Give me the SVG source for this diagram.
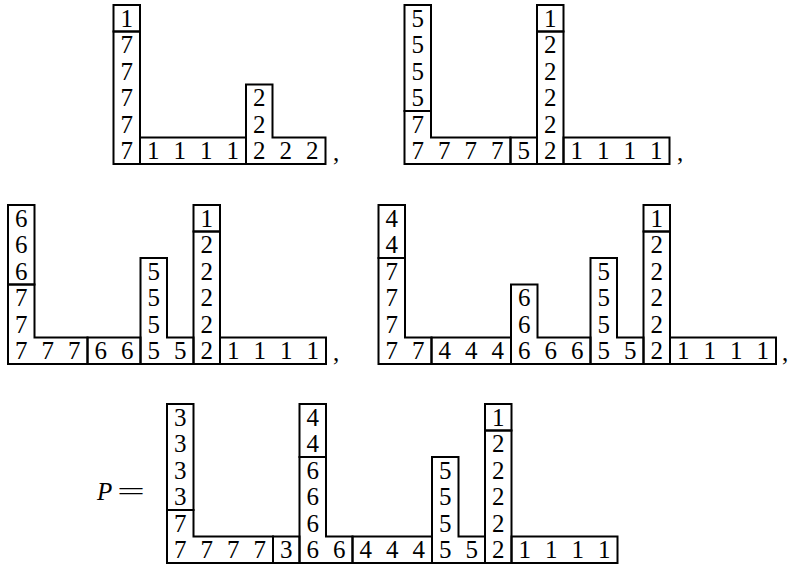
<svg xmlns="http://www.w3.org/2000/svg" width="791" height="566" viewBox="0 0 791 566">
<style>
.b{fill:none;stroke:#000;stroke-width:2;stroke-linejoin:miter}
text{font-family:'Liberation Serif','Times New Roman',serif;font-size:25px;text-anchor:middle;fill:#000}
.p{text-anchor:start}
</style>
<rect width="791" height="566" fill="#fff"/>
<g id="tableau1">
<rect class="b" x="113.5" y="5" width="26.5" height="26.5"/>
<rect class="b" x="113.5" y="31.5" width="26.5" height="132.5"/>
<rect class="b" x="140" y="137.5" width="106" height="26.5"/>
<polygon class="b" points="246,84.5 272.5,84.5 272.5,137.5 325.5,137.5 325.5,164 246,164"/>
<text x="126.75" y="26.5">1</text>
<text x="126.75" y="53">7</text><text x="126.75" y="79.5">7</text><text x="126.75" y="106">7</text><text x="126.75" y="132.5">7</text><text x="126.75" y="159">7</text>
<text x="153.25" y="159">1</text><text x="179.75" y="159">1</text><text x="206.25" y="159">1</text><text x="232.75" y="159">1</text>
<text x="259.25" y="106">2</text><text x="259.25" y="132.5">2</text>
<text x="259.25" y="159">2</text><text x="285.75" y="159">2</text><text x="312.25" y="159">2</text>
<text class="p" x="333" y="161">,</text>
</g>
<g id="tableau2">
<rect class="b" x="404.5" y="5" width="26.5" height="106"/>
<polygon class="b" points="404.5,111 431,111 431,137.5 510.5,137.5 510.5,164 404.5,164"/>
<rect class="b" x="510.5" y="137.5" width="26.5" height="26.5"/>
<rect class="b" x="537" y="5" width="26.5" height="26.5"/>
<rect class="b" x="537" y="31.5" width="26.5" height="132.5"/>
<rect class="b" x="563.5" y="137.5" width="106" height="26.5"/>
<text x="417.75" y="26.5">5</text><text x="417.75" y="53">5</text><text x="417.75" y="79.5">5</text><text x="417.75" y="106">5</text>
<text x="417.75" y="132.5">7</text>
<text x="417.75" y="159">7</text><text x="444.25" y="159">7</text><text x="470.75" y="159">7</text><text x="497.25" y="159">7</text>
<text x="523.75" y="159">5</text>
<text x="550.25" y="26.5">1</text>
<text x="550.25" y="53">2</text><text x="550.25" y="79.5">2</text><text x="550.25" y="106">2</text><text x="550.25" y="132.5">2</text><text x="550.25" y="159">2</text>
<text x="576.75" y="159">1</text><text x="603.25" y="159">1</text><text x="629.75" y="159">1</text><text x="656.25" y="159">1</text>
<text class="p" x="677" y="161">,</text>
</g>
<g id="tableau3">
<rect class="b" x="8" y="205" width="26.5" height="79.5"/>
<polygon class="b" points="8,284.5 34.5,284.5 34.5,337.5 87.5,337.5 87.5,364 8,364"/>
<rect class="b" x="87.5" y="337.5" width="53" height="26.5"/>
<polygon class="b" points="140.5,258 167,258 167,337.5 193.5,337.5 193.5,364 140.5,364"/>
<rect class="b" x="193.5" y="205" width="26.5" height="26.5"/>
<rect class="b" x="193.5" y="231.5" width="26.5" height="132.5"/>
<rect class="b" x="220" y="337.5" width="106" height="26.5"/>
<text x="21.25" y="226.5">6</text><text x="21.25" y="253">6</text><text x="21.25" y="279.5">6</text>
<text x="21.25" y="306">7</text><text x="21.25" y="332.5">7</text>
<text x="21.25" y="359">7</text><text x="47.75" y="359">7</text><text x="74.25" y="359">7</text>
<text x="100.75" y="359">6</text><text x="127.25" y="359">6</text>
<text x="153.75" y="279.5">5</text><text x="153.75" y="306">5</text><text x="153.75" y="332.5">5</text>
<text x="153.75" y="359">5</text><text x="180.25" y="359">5</text>
<text x="206.75" y="226.5">1</text>
<text x="206.75" y="253">2</text><text x="206.75" y="279.5">2</text><text x="206.75" y="306">2</text><text x="206.75" y="332.5">2</text><text x="206.75" y="359">2</text>
<text x="233.25" y="359">1</text><text x="259.75" y="359">1</text><text x="286.25" y="359">1</text><text x="312.75" y="359">1</text>
<text class="p" x="333" y="361">,</text>
</g>
<g id="tableau4">
<rect class="b" x="378.5" y="205" width="26.5" height="53"/>
<polygon class="b" points="378.5,258 405,258 405,337.5 431.5,337.5 431.5,364 378.5,364"/>
<rect class="b" x="431.5" y="337.5" width="79.5" height="26.5"/>
<polygon class="b" points="511,284.5 537.5,284.5 537.5,337.5 590.5,337.5 590.5,364 511,364"/>
<polygon class="b" points="590.5,258 617,258 617,337.5 643.5,337.5 643.5,364 590.5,364"/>
<rect class="b" x="643.5" y="205" width="26.5" height="26.5"/>
<rect class="b" x="643.5" y="231.5" width="26.5" height="132.5"/>
<rect class="b" x="670" y="337.5" width="106" height="26.5"/>
<text x="391.75" y="226.5">4</text><text x="391.75" y="253">4</text>
<text x="391.75" y="279.5">7</text><text x="391.75" y="306">7</text><text x="391.75" y="332.5">7</text>
<text x="391.75" y="359">7</text><text x="418.25" y="359">7</text>
<text x="444.75" y="359">4</text><text x="471.25" y="359">4</text><text x="497.75" y="359">4</text>
<text x="524.25" y="306">6</text><text x="524.25" y="332.5">6</text>
<text x="524.25" y="359">6</text><text x="550.75" y="359">6</text><text x="577.25" y="359">6</text>
<text x="603.75" y="279.5">5</text><text x="603.75" y="306">5</text><text x="603.75" y="332.5">5</text>
<text x="603.75" y="359">5</text><text x="630.25" y="359">5</text>
<text x="656.75" y="226.5">1</text>
<text x="656.75" y="253">2</text><text x="656.75" y="279.5">2</text><text x="656.75" y="306">2</text><text x="656.75" y="332.5">2</text><text x="656.75" y="359">2</text>
<text x="683.25" y="359">1</text><text x="709.75" y="359">1</text><text x="736.25" y="359">1</text><text x="762.75" y="359">1</text>
<text class="p" x="782" y="361">,</text>
</g>
<g id="tableauP">
<text class="p" x="97" y="500" font-style="italic" font-size="27">P</text>
<text class="p" x="117" y="500" textLength="28" lengthAdjust="spacingAndGlyphs">=</text>
<rect class="b" x="167" y="404" width="26.5" height="106"/>
<polygon class="b" points="167,510 193.5,510 193.5,536.5 273,536.5 273,563 167,563"/>
<rect class="b" x="273" y="536.5" width="26.5" height="26.5"/>
<rect class="b" x="299.5" y="404" width="26.5" height="53"/>
<polygon class="b" points="299.5,457 326,457 326,536.5 352.5,536.5 352.5,563 299.5,563"/>
<rect class="b" x="352.5" y="536.5" width="79.5" height="26.5"/>
<polygon class="b" points="432,457 458.5,457 458.5,536.5 485,536.5 485,563 432,563"/>
<rect class="b" x="485" y="404" width="26.5" height="26.5"/>
<rect class="b" x="485" y="430.5" width="26.5" height="132.5"/>
<rect class="b" x="511.5" y="536.5" width="106" height="26.5"/>
<text x="180.25" y="425.5">3</text><text x="180.25" y="452">3</text><text x="180.25" y="478.5">3</text><text x="180.25" y="505">3</text>
<text x="180.25" y="531.5">7</text>
<text x="180.25" y="558">7</text><text x="206.75" y="558">7</text><text x="233.25" y="558">7</text><text x="259.75" y="558">7</text>
<text x="286.25" y="558">3</text>
<text x="312.75" y="425.5">4</text><text x="312.75" y="452">4</text>
<text x="312.75" y="478.5">6</text><text x="312.75" y="505">6</text><text x="312.75" y="531.5">6</text>
<text x="312.75" y="558">6</text><text x="339.25" y="558">6</text>
<text x="365.75" y="558">4</text><text x="392.25" y="558">4</text><text x="418.75" y="558">4</text>
<text x="445.25" y="478.5">5</text><text x="445.25" y="505">5</text><text x="445.25" y="531.5">5</text>
<text x="445.25" y="558">5</text><text x="471.75" y="558">5</text>
<text x="498.25" y="425.5">1</text>
<text x="498.25" y="452">2</text><text x="498.25" y="478.5">2</text><text x="498.25" y="505">2</text><text x="498.25" y="531.5">2</text><text x="498.25" y="558">2</text>
<text x="524.75" y="558">1</text><text x="551.25" y="558">1</text><text x="577.75" y="558">1</text><text x="604.25" y="558">1</text>
</g>
</svg>
